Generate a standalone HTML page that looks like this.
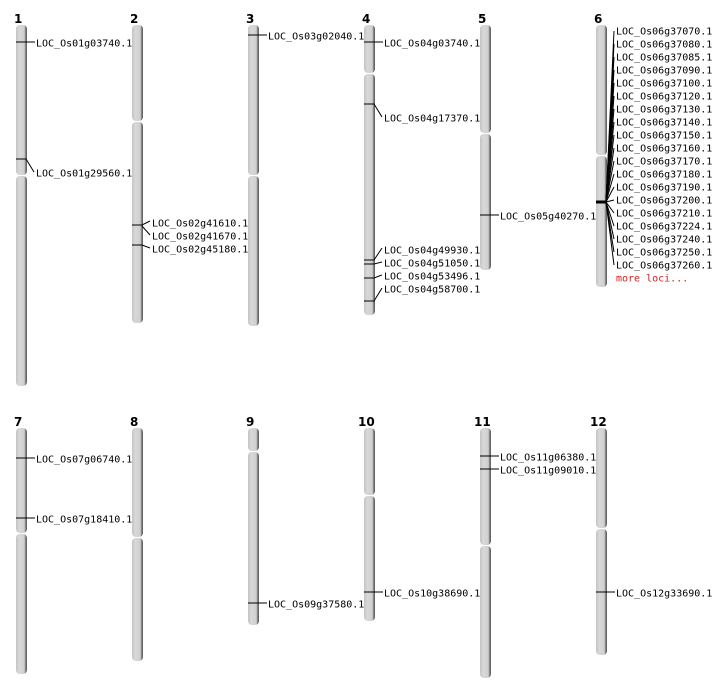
<!DOCTYPE html>
<html><head><meta charset="utf-8"><style>
html,body{margin:0;padding:0;background:#fff;}
svg{display:block}
text{font-family:"DejaVu Sans Mono","Liberation Mono",monospace;font-size:10px;fill:#000;dominant-baseline:central}
.n{font-family:"DejaVu Sans","Liberation Sans",sans-serif;font-weight:bold;font-size:12px}
line,polyline{stroke:#000;stroke-width:1;fill:none}
</style></head><body>
<svg width="712" height="700" viewBox="0 0 712 700" xmlns="http://www.w3.org/2000/svg">
<defs><linearGradient id="g" x1="0" x2="1" y1="0" y2="0">
<stop offset="0" stop-color="#c4c4c4"/><stop offset="0.3" stop-color="#d8d8d8"/><stop offset="0.75" stop-color="#d0d0d0"/><stop offset="0.85" stop-color="#8a8a8a"/><stop offset="1" stop-color="#555"/></linearGradient></defs>
<g fill="url(#g)">
<rect x="16" y="25" width="11" height="150" rx="4"/><rect x="16" y="176" width="11" height="210" rx="4"/>
<rect x="132" y="25" width="11" height="96" rx="4"/><rect x="132" y="122" width="11" height="201" rx="4"/>
<rect x="248" y="25" width="11" height="150" rx="4"/><rect x="248" y="176" width="11" height="150" rx="4"/>
<rect x="364" y="25" width="11" height="48" rx="4"/><rect x="364" y="74" width="11" height="241" rx="4"/>
<rect x="480" y="25" width="11" height="108" rx="4"/><rect x="480" y="134" width="11" height="136" rx="4"/>
<rect x="596" y="25" width="11" height="130" rx="4"/><rect x="596" y="156" width="11" height="131" rx="4"/>
<rect x="16" y="428" width="11" height="105" rx="4"/><rect x="16" y="534" width="11" height="140" rx="4"/>
<rect x="132" y="428" width="11" height="109" rx="4"/><rect x="132" y="538" width="11" height="123" rx="4"/>
<rect x="248" y="428" width="11" height="23" rx="4"/><rect x="248" y="452" width="11" height="173" rx="4"/>
<rect x="364" y="428" width="11" height="67" rx="4"/><rect x="364" y="496" width="11" height="125" rx="4"/>
<rect x="480" y="428" width="11" height="117" rx="4"/><rect x="480" y="546" width="11" height="132" rx="4"/>
<rect x="596" y="428" width="11" height="100" rx="4"/><rect x="596" y="529" width="11" height="126" rx="4"/>
</g>
<g transform="translate(0,1)">
<text class="n" x="14" y="18">1</text><text class="n" x="130" y="18">2</text><text class="n" x="246" y="18">3</text><text class="n" x="362" y="18">4</text><text class="n" x="478" y="18">5</text><text class="n" x="594" y="18">6</text>
<text class="n" x="14" y="421">7</text><text class="n" x="130" y="421">8</text><text class="n" x="246" y="421">9</text><text class="n" x="358" y="421">10</text><text class="n" x="474" y="421">11</text><text class="n" x="590" y="421">12</text>
<text x="36" y="43">LOC_Os01g03740.1</text><text x="36" y="173">LOC_Os01g29560.1</text>
<text x="152" y="223">LOC_Os02g41610.1</text><text x="152" y="236">LOC_Os02g41670.1</text><text x="152" y="249">LOC_Os02g45180.1</text>
<text x="268" y="36">LOC_Os03g02040.1</text>
<text x="384" y="43">LOC_Os04g03740.1</text><text x="384" y="118">LOC_Os04g17370.1</text>
<text x="384" y="250">LOC_Os04g49930.1</text><text x="384" y="263">LOC_Os04g51050.1</text><text x="384" y="276">LOC_Os04g53496.1</text><text x="384" y="289">LOC_Os04g58700.1</text>
<text x="500" y="216">LOC_Os05g40270.1</text>
<text x="616" y="31">LOC_Os06g37070.1</text><text x="616" y="44">LOC_Os06g37080.1</text><text x="616" y="57">LOC_Os06g37085.1</text><text x="616" y="70">LOC_Os06g37090.1</text><text x="616" y="83">LOC_Os06g37100.1</text><text x="616" y="96">LOC_Os06g37120.1</text><text x="616" y="109">LOC_Os06g37130.1</text><text x="616" y="122">LOC_Os06g37140.1</text><text x="616" y="135">LOC_Os06g37150.1</text><text x="616" y="148">LOC_Os06g37160.1</text><text x="616" y="161">LOC_Os06g37170.1</text><text x="616" y="174">LOC_Os06g37180.1</text><text x="616" y="187">LOC_Os06g37190.1</text><text x="616" y="200">LOC_Os06g37200.1</text><text x="616" y="213">LOC_Os06g37210.1</text><text x="616" y="226">LOC_Os06g37224.1</text><text x="616" y="239">LOC_Os06g37240.1</text><text x="616" y="252">LOC_Os06g37250.1</text><text x="616" y="265">LOC_Os06g37260.1</text>
<text x="616" y="278" style="fill:#d42020">more loci...</text>
<text x="36" y="459">LOC_Os07g06740.1</text><text x="36" y="519">LOC_Os07g18410.1</text>
<text x="268" y="604">LOC_Os09g37580.1</text>
<text x="384" y="593">LOC_Os10g38690.1</text>
<text x="500" y="457">LOC_Os11g06380.1</text><text x="500" y="470">LOC_Os11g09010.1</text>
<text x="616" y="593">LOC_Os12g33690.1</text>
</g>
<polyline points="16,42 35,42"/>
<polyline points="16,159 26,159 34,172"/>
<polyline points="132,225 142,225 150,221"/><polyline points="142,226 150,235"/><polyline points="132,245 142,245 150,248"/>
<polyline points="248,35 267,35"/>
<polyline points="364,42 383,42"/>
<polyline points="364,104 374,104 382,117"/>
<polyline points="364,260 374,260 382,248"/><polyline points="364,264 374,264 382,262"/><polyline points="364,278 374,278 382,275"/><polyline points="364,301 374,301 382,288"/>
<polyline points="480,215 499,215"/>
<line x1="596" y1="202" x2="606" y2="202" style="stroke-width:3"/>
<g>
<line x1="606" y1="202" x2="614" y2="31"/><line x1="606" y1="202" x2="614" y2="44"/><line x1="606" y1="202" x2="614" y2="57"/><line x1="606" y1="202" x2="614" y2="70"/><line x1="606" y1="202" x2="614" y2="83"/><line x1="606" y1="202" x2="614" y2="96"/><line x1="606" y1="202" x2="614" y2="109"/><line x1="606" y1="202" x2="614" y2="122"/><line x1="606" y1="202" x2="614" y2="135"/><line x1="606" y1="202" x2="614" y2="148"/><line x1="606" y1="202" x2="614" y2="161"/><line x1="606" y1="202" x2="614" y2="174"/><line x1="606" y1="202" x2="614" y2="187"/><line x1="606" y1="202" x2="614" y2="200"/><line x1="606" y1="202" x2="614" y2="213"/><line x1="606" y1="202" x2="614" y2="226"/><line x1="606" y1="202" x2="614" y2="239"/><line x1="606" y1="202" x2="614" y2="252"/><line x1="606" y1="202" x2="614" y2="265"/>
</g>
<polyline points="16,458 35,458"/><polyline points="16,518 35,518"/>
<polyline points="248,603 267,603"/>
<polyline points="364,592 383,592"/>
<polyline points="480,456 499,456"/><polyline points="480,469 499,469"/>
<polyline points="596,592 615,592"/>
</svg>
</body></html>
